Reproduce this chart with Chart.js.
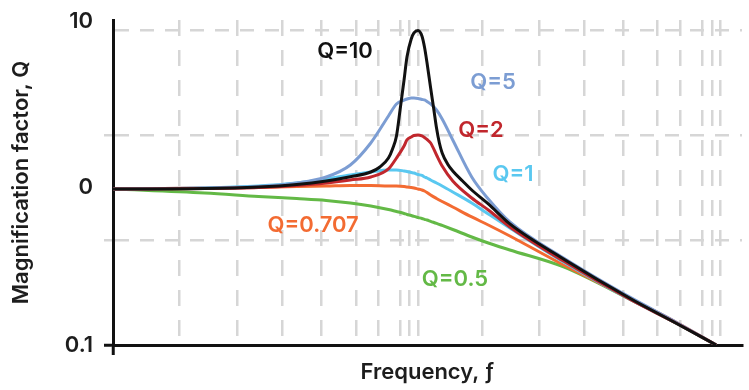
<!DOCTYPE html>
<html><head><meta charset="utf-8">
<script src="https://cdn.jsdelivr.net/npm/chart.js@4"></script>
<style>html,body{margin:0;padding:0;background:#fff}#wrap{width:749px;height:390px}</style>
</head><body><div id="wrap"><canvas id="c" width="749" height="390"></canvas></div>
<script>
// Frequency ratio samples (log axis)
const freq = [0.1, 0.2, 0.3, 0.4, 0.5, 0.6, 0.7, 0.8, 0.85, 0.9, 0.92, 0.95, 0.97, 1.0, 1.03, 1.05, 1.07, 1.1, 1.15, 1.2, 1.3, 1.5, 1.7, 2, 3, 5, 7, 9.5];
// Q=10 has a narrow peak, so it is sampled more finely
const freqQ10 = [0.1, 0.2, 0.3, 0.4, 0.5, 0.6, 0.7, 0.75, 0.8, 0.825, 0.85, 0.875, 0.9, 0.92, 0.95, 0.97, 1.0, 1.03, 1.05, 1.07, 1.1, 1.125, 1.15, 1.175, 1.2, 1.25, 1.3, 1.4, 1.5, 1.7, 2, 3, 5, 7, 9.5];
const magQ10   = [0.978, 0.985, 1.007, 1.045, 1.10, 1.17, 1.254, 1.35, 1.539, 1.756, 2.123, 3.197, 4.81, 6.74, 8.77, 9.57, 9.93, 9.16, 7.80, 6.22, 4.28, 3.197, 2.387, 1.917, 1.656, 1.410, 1.273, 1.100, 0.964, 0.786, 0.587, 0.352, 0.196, 0.138, 0.1];
const magQ5    = [0.978, 0.993, 1.015, 1.068, 1.166, 1.390, 1.917, 2.844, 3.39, 3.59, 3.647, 3.701, 3.701, 3.674, 3.621, 3.594, 3.516, 3.390, 3.105, 2.722, 2.003, 1.166, 0.845, 0.604, 0.357, 0.199, 0.140, 0.1];
const magQ2    = [0.978, 0.985, 1.0, 1.030, 1.068, 1.116, 1.166, 1.311, 1.539, 1.834, 2.003, 2.092, 2.139, 2.154, 2.123, 2.077, 2.017, 1.917, 1.608, 1.369, 1.100, 0.858, 0.720, 0.561, 0.341, 0.193, 0.138, 0.1];
const magQ1    = [0.978, 0.993, 1.022, 1.068, 1.132, 1.200, 1.254, 1.291, 1.291, 1.273, 1.264, 1.245, 1.236, 1.209, 1.192, 1.166, 1.149, 1.116, 1.068, 1.022, 0.936, 0.797, 0.679, 0.553, 0.337, 0.193, 0.138, 0.1];
const magQ0707 = [0.978, 0.993, 1.0, 1.015, 1.022, 1.030, 1.030, 1.022, 1.022, 1.015, 1.007, 1.0, 0.993, 0.978, 0.964, 0.950, 0.930, 0.896, 0.852, 0.815, 0.752, 0.650, 0.578, 0.492, 0.322, 0.196, 0.140, 0.1];
const magQ05   = [0.978, 0.923, 0.877, 0.850, 0.827, 0.797, 0.763, 0.725, 0.704, 0.684, 0.674, 0.664, 0.655, 0.645, 0.636, 0.628, 0.622, 0.610, 0.592, 0.574, 0.541, 0.485, 0.444, 0.401, 0.313, 0.193, 0.138, 0.1];

const seriesNames  = ['Q=10', 'Q=2', 'Q=5', 'Q=1', 'Q=0.707', 'Q=0.5'];
const seriesFreq   = [freqQ10, freq, freq, freq, freq, freq];
const seriesData   = [magQ10, magQ2, magQ5, magQ1, magQ0707, magQ05];
const seriesColors = ['#111111', '#c1272d', '#7c9dd3', '#5ac8f0', '#f36b32', '#63b946'];

// Curve label anchors (frequency, magnification)
const labelFreq = [0.576, 1.609, 1.762, 2.049, 0.453, 1.322];
const labelMag  = [7.25, 2.284, 4.61, 1.20, 0.569, 0.259];

// Grid / tick values
const xGridValues = [0.1, 0.165, 0.255, 0.358, 0.481, 0.626, 0.740, 0.873, 0.934, 1, 1.621, 2.493, 3.502, 4.699, 6.075, 7.228, 8.534, 9.203, 9.777];
const yTickValues = [0.1, 0.4642, 1, 2.154, 10];
const yLabelValues = [0.1, 1, 10];
const yLabelTexts  = ['0.1', '0', '10'];
const yGridValues  = [0.4642, 2.154, 10];

const GRID = '#d6d6d6', INK = '#1d1d1d', CLEAR = 'rgba(0,0,0,0)';
const FONT = 'Inter';

const labelPlugin = {
  id: 'qlabels',
  afterDatasetsDraw(chart) {
    const {ctx, scales: {x, y}} = chart;
    ctx.save();
    ctx.font = '600 22px ' + FONT;
    ctx.textAlign = 'center';
    ctx.textBaseline = 'middle';
    seriesNames.forEach((t, i) => {
      ctx.fillStyle = seriesColors[i];
      ctx.fillText(t, x.getPixelForValue(labelFreq[i]), y.getPixelForValue(labelMag[i]) - 1);
    });
    ctx.restore();
  }
};

new Chart(document.getElementById('c'), {
  type: 'line',
  data: {
    datasets: seriesNames.map((n, i) => ({
      label: n,
      data: seriesFreq[i].map((f, k) => ({x: f, y: seriesData[i][k]})),
      borderColor: seriesColors[i],
      borderWidth: 3,
      pointRadius: 0,
      fill: false,
      cubicInterpolationMode: 'monotone'
    }))
  },
  options: {
    responsive: false,
    animation: false,
    layout: {padding: {left: 0, right: 7, top: 20, bottom: 0}},
    plugins: {legend: {display: false}, tooltip: {enabled: false}},
    scales: {
      x: {
        type: 'logarithmic', min: 0.1, max: 11.54,
        afterBuildTicks: s => { s.ticks = xGridValues.map(v => ({value: v})); },
        afterFit: s => { s.height = 45; s.paddingLeft = 0; s.paddingRight = 0; },
        ticks: {display: false},
        grid: {
          color: c => (c.tick && c.tick.value === 0.1) ? CLEAR : GRID,
          lineWidth: 2.5,
          tickLength: 10,
          tickWidth: 3,
          tickColor: c => (c.tick && c.tick.value === 0.1) ? '#111' : CLEAR
        },
        border: {color: '#111', width: 3, dash: [16, 14]},
        title: {display: true, text: 'Frequency, ƒ', color: INK,
          font: {family: FONT, size: 22, weight: '600', lineHeight: 1},
          padding: {top: 0, bottom: 7}}
      },
      y: {
        type: 'logarithmic', min: 0.1, max: 11.57,
        afterBuildTicks: s => { s.ticks = yTickValues.map(v => ({value: v})); },
        afterFit: s => { s.width = 113; s.paddingTop = 0; s.paddingBottom = 0; },
        ticks: {
          padding: 11,
          color: INK,
          font: c => ({family: FONT, size: 22, weight: '600',
            lineHeight: (c.tick && c.tick.value === 10) ? '17px' : 1.2}),
          callback: v => {
            const i = yLabelValues.indexOf(v);
            if (i < 0) return '';
            return v === 10 ? [yLabelTexts[i], ''] : yLabelTexts[i];
          }
        },
        grid: {
          color: c => (c.tick && yGridValues.includes(c.tick.value)) ? GRID : CLEAR,
          lineWidth: 2.5,
          tickLength: 9,
          tickWidth: c => (c.tick && c.tick.value === 0.1) ? 3 : 2.5,
          tickColor: c => {
            if (!c.tick) return CLEAR;
            if (c.tick.value === 0.1) return '#111';
            if (c.tick.value === 0.4642 || c.tick.value === 2.154) return GRID;
            return CLEAR;
          }
        },
        border: {color: '#111', width: 3, dash: [14, 11]},
        title: {display: true, text: 'Magnification factor, Q', color: INK,
          font: {family: FONT, size: 22, weight: '600', lineHeight: 1},
          padding: {top: 10, bottom: 0}}
      }
    }
  },
  plugins: [labelPlugin]
});
</script>
</body></html>
